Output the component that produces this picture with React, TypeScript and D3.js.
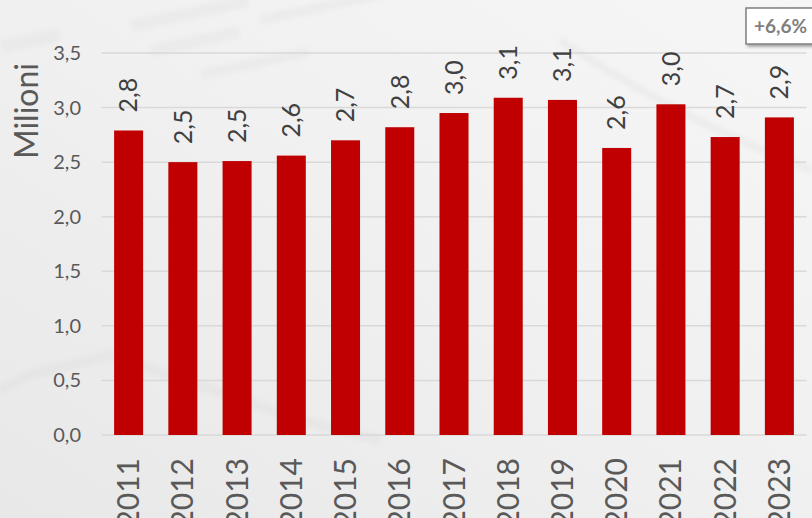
import React from "react";
import * as d3 from "d3";

const years = ["2011","2012","2013","2014","2015","2016","2017","2018","2019","2020","2021","2022","2023"];
const values = [2.79, 2.50, 2.51, 2.56, 2.70, 2.82, 2.95, 3.09, 3.07, 2.63, 3.03, 2.73, 2.91];
const yTicks = [0, 0.5, 1.0, 1.5, 2.0, 2.5, 3.0, 3.5];
const yTitle = "Milioni";
const badge = "+6,6%";

const W = 812, H = 518;
const fmt = (v: number) => d3.format(".1f")(v).replace(".", ",");

export default function App() {
  const x = d3.scaleBand<string>().domain(years).range([101.5, 806.5]).paddingInner(0.465).paddingOuter(0.2325);
  const y = d3.scaleLinear().domain([0, 3.5]).range([435, 53]);
  const font = "Lato, 'Open Sans', sans-serif";
  const txt = "#595959";
  return (
    <svg width={W} height={H} style={{ position: "absolute", left: 0, top: 0 }} fontFamily={font}>
      <defs>
        <linearGradient id="bg" x1="0" y1="1" x2="1" y2="0">
          <stop offset="0" stopColor="#e8e8e8" />
          <stop offset="0.5" stopColor="#f0f0f0" />
          <stop offset="1" stopColor="#f6f6f6" />
        </linearGradient>
        <filter id="sh" x="-20%" y="-20%" width="150%" height="160%">
          <feDropShadow dx="2" dy="2" stdDeviation="1.5" floodColor="#000" floodOpacity="0.35" />
        </filter>
        <filter id="blur"><feGaussianBlur stdDeviation="2" /></filter>
      </defs>
      <rect x={0} y={0} width={W} height={H} fill="url(#bg)" />
      {/* faint background texture */}
      <g opacity={0.35} fill="#e0e0e0" filter="url(#blur)">
        <rect x={0} y={40} width={60} height={14} transform="rotate(-12 0 40)" />
        <rect x={130} y={20} width={120} height={12} transform="rotate(-12 130 20)" />
        <rect x={150} y={45} width={90} height={12} transform="rotate(-12 150 45)" />
        <rect x={260} y={15} width={140} height={10} transform="rotate(-12 260 15)" />
        <rect x={200} y={70} width={110} height={10} transform="rotate(-12 200 70)" />
      </g>
      <path d="M0,390 L30,375 L110,355 L300,420 L380,440" stroke="#dcdcdc" strokeWidth={10} fill="none" opacity={0.35} filter="url(#blur)" />
      <path d="M560,40 Q680,120 812,170" stroke="#e2e2e2" strokeWidth={8} fill="none" opacity={0.4} filter="url(#blur)" />

      {/* gridlines */}
      {yTicks.map((t) => (
        <line key={t} x1={101.5} x2={806.5} y1={y(t)} y2={y(t)} stroke="#d9d9d9" strokeWidth={1.5} />
      ))}
      {/* tick labels */}
      {yTicks.map((t) => (
        <text key={"l" + t} x={81} y={y(t)} dy="0.35em" textAnchor="end" fontSize={20} fill={txt}>
          {fmt(t)}
        </text>
      ))}
      {/* y title */}
      <text transform={`translate(27,111) rotate(-90)`} textAnchor="middle" dy="0.35em" fontSize={32} fill={txt}>
        {yTitle}
      </text>
      {/* bars */}
      {years.map((yr, i) => (
        <rect key={yr} x={x(yr)} y={y(values[i])} width={x.bandwidth()} height={y(0) - y(values[i])} fill="#C00000" />
      ))}
      {/* data labels */}
      {years.map((yr, i) => {
        const cx = (x(yr) as number) + x.bandwidth() / 2;
        const ty = y(values[i]) - 18;
        return (
          <text key={"d" + yr} transform={`translate(${cx},${ty}) rotate(-90)`} dy="0.35em" textAnchor="start" fontSize={25} fill="#404040">
            {fmt(values[i])}
          </text>
        );
      })}
      {/* category labels */}
      {years.map((yr) => {
        const cx = (x(yr) as number) + x.bandwidth() / 2;
        return (
          <text key={"c" + yr} transform={`translate(${cx},458) rotate(-90)`} dy="0.35em" textAnchor="end" fontSize={30} fill={txt}>
            {yr}
          </text>
        );
      })}
      {/* badge */}
      <rect x={746} y={8} width={72} height={36} fill="#ffffff" stroke="#7f7f7f" strokeWidth={1.5} filter="url(#sh)" />
      <text x={754} y={33} fontSize={19} fontWeight="bold" fill="#7f7f7f">{badge}</text>
    </svg>
  );
}
